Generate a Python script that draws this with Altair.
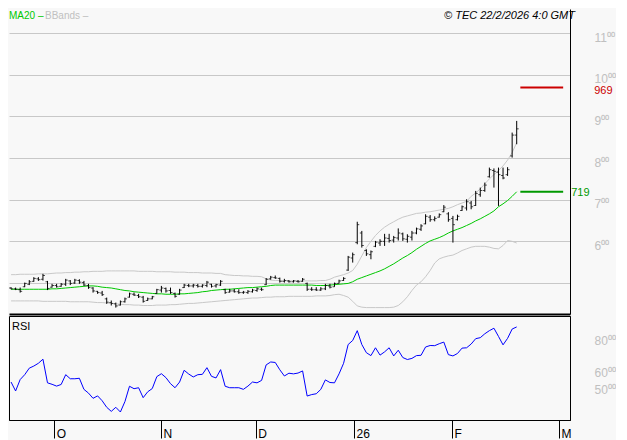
import altair as alt
import pandas as pd

# ---------------- data ----------------
high = [490,489,489,501,507,514,514,522,505,498,
        498,500,510,507,510,509,505,498,490,481,
        481,465,458,453,458,465,477,477,474,469,
        465,469,486,493,489,489,477,486,498,498,
        498,498,497,505,498,498,507,486,486,486,
        485,481,483,486,489,489,512,517,518,513,
        510,507,507,507,512,501,490,490,490,498,
        498,501,508,514,565,573,647,625,581,578,
        601,605,618,618,613,631,621,617,625,633,
        641,665,663,660,667,687,670,661,664,686,
        701,697,721,729,741,777,775,777,777,778,
        861,889]
low = [485,483,477,490,495,503,505,506,483,489,
       489,491,493,495,498,498,493,486,477,474,
       469,450,446,441,446,453,465,469,464,453,
       457,461,474,477,477,474,465,472,488,490,
       489,489,489,490,489,489,493,474,477,477,
       474,474,474,477,479,481,495,508,510,501,
       501,501,501,501,503,481,481,481,481,483,
       487,491,499,505,529,549,593,585,565,557,
       586,589,589,597,597,602,601,597,602,617,
       625,641,647,648,657,670,647,597,650,673,
       674,677,685,707,719,753,729,685,749,757,
       801,833]
open_ = [488,486,484,491,497,504,510,509,503,490,
         494,492,497,505,500,506,501,494,488,480,
         476,462,453,450,447,455,466,473,470,466,
         458,462,475,483,487,482,475,473,489,494,
         493,494,492,494,497,493,495,484,478,481,
         479,477,477,479,482,485,496,510,513,511,
         504,505,503,504,504,499,485,484,483,486,
         493,491,499,506,531,560,597,620,578,568,
         588,596,600,607,603,608,618,605,610,620,
         629,642,658,652,658,671,666,655,652,674,
         680,692,686,712,722,755,770,766,758,760,
         805,855]
close = [486,485,480,499,503,511,508,518,487,494,
         491,497,507,499,507,502,495,489,481,477,
         472,454,451,445,455,462,474,471,467,456,
         462,467,484,488,481,477,468,483,495,493,
         495,492,495,502,492,496,504,477,481,479,
         477,478,480,483,486,484,509,514,512,504,
         506,503,505,503,509,485,484,483,486,494,
         490,499,505,511,562,568,640,590,570,575,
         598,600,608,602,609,620,606,612,620,630,
         637,660,652,655,664,682,652,640,660,683,
         695,683,715,722,735,772,768,760,752,772,
         855,870]
ma20 = [485,485,485,485,485,485,485,485,485,486,
        486,487,488,489,490,491,492,493,493,492,
        490,489,488,486,484,482,481,479,478,477,
        476,475,474,474,473,473,473,474,474,475,
        476,477,479,480,482,483,484,485,485,486,
        487,488,489,489,490,491,492,494,495,495,
        495,495,495,495,495,495,495,494,494,494,
        495,496,497,498,499,503,509,513,517,521,
        525,529,534,540,546,553,560,566,573,581,
        588,595,601,605,609,614,620,625,629,633,
        638,643,649,654,660,666,673,683,690,698,
        708,719]
bb_upper = [520,520,521,521,521,521,522,522,522,523,
            524,524,525,525,526,526,527,527,528,528,
            528,529,529,529,529,529,529,529,528,528,
            528,528,527,527,527,527,526,526,526,525,
            525,525,524,524,524,523,523,520,519,518,
            518,517,517,516,516,515,510,507,506,506,
            505,505,505,505,505,505,505,505,506,506,
            509,514,517,520,524,530,545,565,585,600,
            614,625,634,641,647,653,658,661,664,667,
            668,670,671,673,675,677,679,683,688,692,
            696,708,716,726,738,750,760,770,781,795,
            813,837]
bb_lower = [457,457,457,457,457,457,457,456,456,456,
            456,456,456,455,455,455,455,455,454,453,
            453,452,451,450,449,448,448,447,447,446,
            446,446,447,447,447,448,448,449,450,451,
            451,452,453,454,455,456,457,458,459,460,
            461,462,463,464,464,465,466,466,467,467,
            467,468,468,468,468,468,468,469,469,469,
            470,472,473,470,466,456,445,442,441,441,
            441,441,441,441,442,446,455,467,482,495,
            503,515,530,548,558,562,565,567,572,578,
            582,586,588,588,588,586,583,582,590,602,
            600,596]
rsi = [52.0,46.5,53.5,56.5,60.5,61.8,63.5,66.0,51.5,50.6,
       49.5,50.5,56.5,54.0,54.0,54.3,47.5,45.2,42.0,43.5,
       40.5,36.5,34.0,36.5,33.6,40.0,49.4,47.9,48.5,42.4,
       46.0,48.0,55.3,57.1,54.7,51.0,48.5,52.0,59.2,56.9,
       55.1,56.5,56.7,60.8,55.5,54.5,59.6,49.4,48.5,48.5,
       48.5,47.5,49.5,52.0,51.5,53.0,62.5,64.3,64.0,59.5,
       55.7,57.4,57.0,57.5,58.8,43.4,44.3,44.8,47.5,53.3,
       51.7,51.5,57.0,63.5,75.0,77.5,83.5,75.0,70.0,68.2,
       73.0,68.5,70.5,73.0,68.0,71.5,67.0,65.8,66.5,68.2,
       68.4,73.5,74.4,74.3,75.5,76.5,68.8,68.0,69.5,72.8,
       73.0,75.3,78.6,79.2,81.6,83.5,85.0,80.0,74.8,78.8,
       84.5,85.8]

month_pos = [9.5, 32.9, 53.7, 75.3, 96.8, 120.3]
month_labels = ["O", "N", "D", "26", "F", "M"]
price_grid = [500, 600, 700, 800, 900, 1000, 1100]
rsi_ticks = [50, 60, 80]
level_values = [969, 719]
level_labels = ["969", "719"]
level_colors = ["#cc0000", "#009900"]
level_from = 111.8
level_to = 121.2

# ---------------- tables ----------------
n = len(close)
df = pd.DataFrame({
    "i": list(range(n)), "open": open_, "high": high, "low": low, "close": close,
    "ma20": ma20, "bbu": bb_upper, "bbl": bb_lower, "rsi": rsi,
})
lv = pd.DataFrame({"level": level_values, "label": level_labels, "color": level_colors})

FONT = "Liberation Sans"
xscale = alt.Scale(domain=[-0.45, 122.7], nice=False, zero=False)
yscale = alt.Scale(domain=[425.6, 1157.6], nice=False, zero=False)

main_xaxis = alt.Axis(labels=False, ticks=False, grid=False, domainColor="black",
                      domainWidth=2, title=None)
main_yaxis = alt.Axis(orient="right", values=price_grid, grid=True, gridColor="#c8c8c8",
                      ticks=False, domainColor="black", labelColor="#c0c0c0",
                      labelFontSize=12, labelFont=FONT, labelPadding=24, labelAlign="left",
                      labelBaseline="middle", labelOffset=4, labelOverlap=False,
                      labelFlush=False, title=None,
                      labelExpr="datum.value < 550 ? '' : slice(format(datum.value, 'd'), 0, -2) + '\u2070\u2070'")

X = alt.X("i:Q", scale=xscale, axis=main_xaxis)

def Y(field):
    return alt.Y(field, type="quantitative", scale=yscale, axis=main_yaxis)

base = alt.Chart(df)
bands_u = base.mark_line(color="#c8c8c8", strokeWidth=1).encode(x=X, y=Y("bbu"))
bands_l = base.mark_line(color="#c8c8c8", strokeWidth=1).encode(x=X, y=Y("bbl"))
ma_line = base.mark_line(color="#00c800", strokeWidth=1).encode(x=X, y=Y("ma20"))
hl = base.mark_rule(color="black", strokeWidth=1).encode(x=X, y=Y("low"), y2="high:Q")
op = base.mark_tick(orient="horizontal", size=2, thickness=1, color="black", xOffset=-1).encode(x=X, y=Y("open"))
cl = base.mark_tick(orient="horizontal", size=2, thickness=1, color="black", xOffset=1).encode(x=X, y=Y("close"))

lvl_lines = alt.Chart(lv).mark_rule(strokeWidth=2).encode(
    x=alt.datum(level_from), x2=alt.datum(level_to), y=Y("level"),
    color=alt.Color("color:N", scale=None))
lvl_969 = alt.Chart(lv[lv["level"] == 969]).mark_text(
    align="left", baseline="middle", dx=31, dy=3, font=FONT, fontSize=11).encode(
    x=alt.datum(level_to), y=Y("level"), text="label:N", color=alt.Color("color:N", scale=None))
lvl_719 = alt.Chart(lv[lv["level"] == 719]).mark_text(
    align="left", baseline="middle", dx=8, dy=1, font=FONT, fontSize=11).encode(
    x=alt.datum(level_to), y=Y("level"), text="label:N", color=alt.Color("color:N", scale=None))

legend_ma = alt.Chart(pd.DataFrame({"t": ["MA20 \u2013"]})).mark_text(
    align="left", baseline="middle", font=FONT, fontSize=10, color="#00c800").encode(
    x=alt.value(0), y=alt.value(7), text="t:N")
legend_bb = alt.Chart(pd.DataFrame({"t": ["BBands \u2013"]})).mark_text(
    align="left", baseline="middle", font=FONT, fontSize=10, color="#c0c0c0").encode(
    x=alt.value(36), y=alt.value(7), text="t:N")
copyright_t = alt.Chart(pd.DataFrame({"t": ["\u00a9 TEC 22/2/2026 4:0 GMT"]})).mark_text(
    align="right", baseline="middle", font=FONT, fontSize=11, fontStyle="italic",
    color="black").encode(x=alt.value(566), y=alt.value(7), text="t:N")

main = alt.layer(bands_u, bands_l, ma_line, hl, op, cl, lvl_lines, lvl_969, lvl_719,
                 legend_ma, legend_bb, copyright_t).properties(
    width=561, height=305, view=alt.ViewBackground(stroke="transparent"))

# ---------------- RSI panel ----------------
pos_js = "[" + ",".join(str(p) for p in month_pos) + "]"
lab_js = "[" + ",".join("'" + s + "'" for s in month_labels) + "]"
rsi_xaxis = alt.Axis(values=month_pos, tickSize=18, tickColor="black", tickWidth=1,
                     labelAlign="left", labelOffset=2, labelBaseline="alphabetic",
                     labelPadding=-1, labelFontSize=12, labelFont=FONT, labelColor="black",
                     domainColor="black", grid=False, title=None, labelFlush=False,
                     labelOverlap=False,
                     labelExpr=lab_js + "[indexof(" + pos_js + ", datum.value)]")
rsi_yaxis = alt.Axis(orient="right", values=rsi_ticks, grid=False, ticks=False,
                     domainColor="black", labelColor="#c0c0c0", labelFontSize=12,
                     labelFont=FONT, labelPadding=24, labelAlign="left",
                     labelBaseline="middle", labelOffset=4, labelOverlap=False,
                     labelFlush=False, title=None,
                     labelExpr="format(datum.value, 'd') + '\u2070\u2070'")
rsi_line = base.mark_line(color="#0000ff", strokeWidth=1).encode(
    x=alt.X("i:Q", scale=xscale, axis=rsi_xaxis),
    y=alt.Y("rsi:Q", scale=alt.Scale(domain=[28.7, 92.5], nice=False, zero=False), axis=rsi_yaxis))
rsi_label = alt.Chart(pd.DataFrame({"t": ["RSI"]})).mark_text(
    align="left", baseline="middle", font=FONT, fontSize=11, color="black").encode(
    x=alt.value(3), y=alt.value(11), text="t:N")
rsi_panel = alt.layer(rsi_line, rsi_label).properties(
    width=561, height=104, view=alt.ViewBackground(stroke="black", strokeWidth=1))

chart = alt.vconcat(main, rsi_panel, spacing=2, bounds="flush").properties(
    padding=0, background="#f8f8f8").configure_view(stroke="transparent")

chart.save("out.html", embed_options={"renderer": "svg", "actions": False})
